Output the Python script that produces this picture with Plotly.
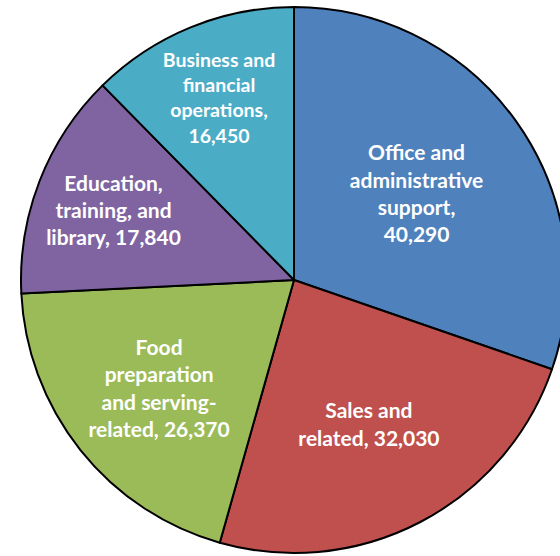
import plotly.graph_objects as go

categories = [
    "Office and administrative support",
    "Sales and related",
    "Food preparation and serving-related",
    "Education, training, and library",
    "Business and financial operations",
]
label_text = [
    "Office and<br>administrative<br>support,<br>",
    "Sales and<br>related, ",
    "Food<br>preparation<br>and serving-<br>related, ",
    "Education,<br>training, and<br>library, ",
    "Business and<br>financial<br>operations,<br>",
]
values = [40290, 32030, 26370, 17840, 16450]
colors = ["#4F81BD", "#C0504D", "#9BBB59", "#8064A2", "#4BACC6"]

texts = [f"{t}{v:,}" for t, v in zip(label_text, values)]

fig = go.Figure(
    go.Pie(
        labels=categories,
        values=values,
        text=texts,
        texttemplate="<b>%{text}</b>",
        textinfo="text",
        textposition="inside",
        insidetextorientation="horizontal",
        sort=False,
        direction="clockwise",
        rotation=0,
        marker=dict(colors=colors, line=dict(color="black", width=2)),
        textfont=dict(family="Lato", size=21, color="white"),
        hoverinfo="label+value",
        showlegend=False,
    )
)
fig.update_layout(
    width=567,
    height=556,
    autosize=False,
    margin=dict(l=21, r=0, t=7, b=3),
    paper_bgcolor="white",
    plot_bgcolor="white",
)
fig.write_html(
    "out.html",
    config={"displayModeBar": False},
    post_script="document.body.style.margin='0';document.body.style.overflow='hidden';",
)
